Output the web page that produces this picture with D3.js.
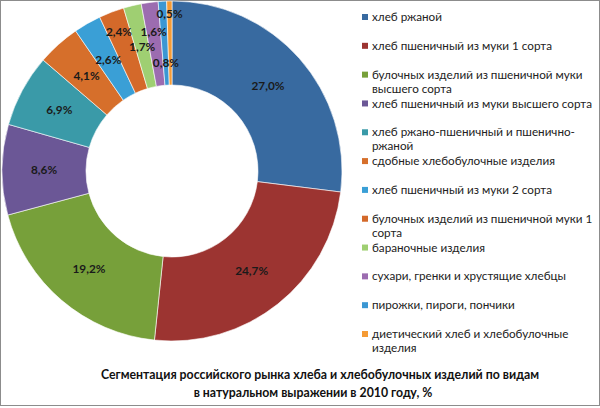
<!DOCTYPE html>
<html>
<head>
<meta charset="utf-8">
<script src="https://cdn.jsdelivr.net/npm/d3@7"></script>
<style>
	body { margin: 0; background: #fff; }
	svg text { font-family: Lato, "Open Sans", sans-serif; }
</style>
</head>
<body>
<svg id="chart" width="600" height="408"></svg>
<script>
// Chart data
const categories = [
	'хлеб ржаной',
	'хлеб пшеничный из муки 1 сорта',
	'булочных изделий из пшеничной муки|высшего сорта',
	'хлеб пшеничный из муки высшего сорта',
	'хлеб ржано-пшеничный и пшенично-|ржаной',
	'сдобные хлебобулочные изделия',
	'хлеб пшеничный из муки 2 сорта',
	'булочных изделий из пшеничной муки 1|сорта',
	'бараночные изделия',
	'сухари, гренки и хрустящие хлебцы',
	'пирожки, пироги, пончики',
	'диетический хлеб и хлебобулочные|изделия'
];
const shares = [27.0, 24.7, 19.2, 8.6, 6.9, 4.1, 2.6, 2.4, 1.7, 1.6, 0.8, 0.5];
const colors = [
	'#386aa0', '#9c3431', '#77a03a', '#6b5796', '#3a9aa8', '#d66f2b',
	'#3a9fd6', '#d4692a', '#9fcf72', '#9c6cb0', '#3b97d3', '#f59b35'
];
const titleLines = [
	'Сегментация российского рынка хлеба и хлебобулочных изделий по видам',
	'в натуральном выражении в 2010 году, %'
];

let svg = d3.select('#chart');
const cx = 172, cy = 171, outerR = 170, innerR = 86;

// frame
svg.append('rect')
	.attr('x', 0.5).attr('y', 0.5)
	.attr('width', 599).attr('height', 405)
	.attr('fill', 'none')
	.attr('stroke', '#8c8c8c');

const pie = d3.pie().sort(null).value((d) => d);
const arcs = pie(shares);
const arc = d3.arc().innerRadius(innerR).outerRadius(outerR);

let g = svg.append('g').attr('transform', `translate(${cx},${cy})`);

g.selectAll('path')
	.data(arcs)
	.enter()
	.append('path')
	.attr('d', arc)
	.attr('fill', (d, i) => colors[i])
	.attr('stroke', '#fff')
	.attr('stroke-width', 0.6);

// small slices get their labels pushed in or out like the original
const labelRadius = (i) => ({ 7: 149, 9: 140, 10: 108, 11: 157 }[i] || 128);
const fmt = (v) => v.toFixed(1).replace('.', ',') + '%';

g.selectAll('text.val')
	.data(arcs)
	.enter()
	.append('text')
	.attr('class', 'val')
	.attr('transform', (d, i) => {
		let r = labelRadius(i);
		let p = d3.arc().innerRadius(r).outerRadius(r).centroid(d);
		return `translate(${p[0]},${p[1]})`;
	})
	.attr('text-anchor', 'middle')
	.attr('dy', '0.35em')
	.attr('font-size', 11.8)
	.attr('font-weight', 'bold')
	.attr('fill', '#1a1a1a')
	.text((d) => fmt(d.data));

// legend
const legendY = d3.scalePoint()
	.domain(d3.range(categories.length))
	.range([17, 334]);

let legend = svg.append('g');
let item = legend.selectAll('g')
	.data(categories)
	.enter()
	.append('g')
	.attr('transform', (d, i) => `translate(0,${legendY(i)})`);

item.append('rect')
	.attr('x', 362).attr('y', -3)
	.attr('width', 6).attr('height', 6)
	.attr('fill', (d, i) => colors[i]);

item.append('text')
	.attr('x', 372)
	.attr('font-size', 11.7)
	.attr('fill', '#222')
	.selectAll('tspan')
	.data((d) => d.split('|'))
	.enter()
	.append('tspan')
	.attr('x', 372)
	.attr('y', (d, j) => j * 14)
	.attr('dy', '0.35em')
	.text((d) => d);

// title
svg.append('text')
	.attr('text-anchor', 'middle')
	.attr('font-size', 12.3)
	.attr('font-weight', 'bold')
	.attr('fill', '#111')
	.selectAll('tspan')
	.data(titleLines)
	.enter()
	.append('tspan')
	.attr('x', (d, i) => i ? 313 : 320)
	.attr('y', (d, i) => 379 + i * 18)
	.text((d) => d);
</script>
</body>
</html>
